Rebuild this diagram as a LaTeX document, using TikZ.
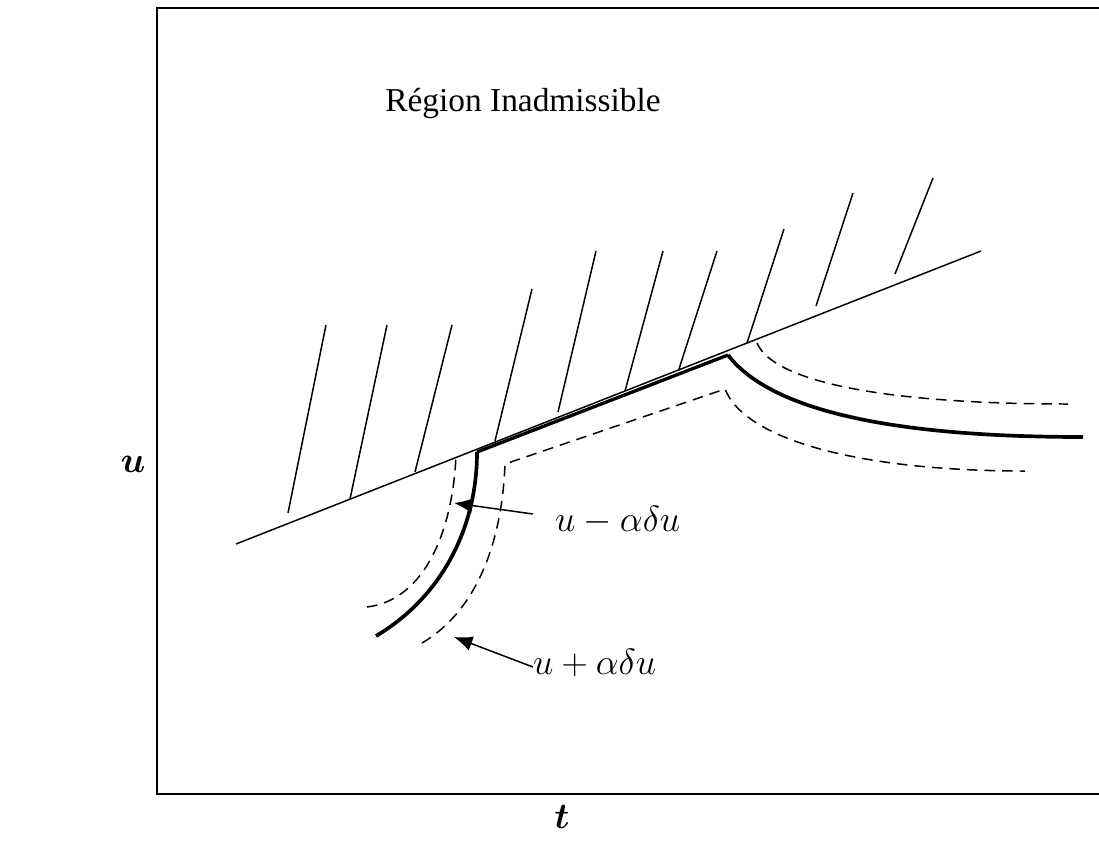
\documentclass[tikz,border=0pt]{standalone}
\usepackage{amsmath}
\usepackage{fontspec}
\setmainfont{Liberation Serif}
\usetikzlibrary{arrows.meta}
\tikzset{
  thinline/.style={line width=0.85pt},
  thickcurve/.style={line width=2.1pt},
  dashcurve/.style={line width=0.85pt, dash pattern=on 6pt off 4pt},
  hatchline/.style={line width=0.85pt},
  frameline/.style={line width=1.6pt},
  pointer/.style={line width=0.85pt, -{Latex[length=10.5pt,width=8.5pt]}},
  lbl/.style={font=\fontsize{20}{24}\selectfont, inner sep=1pt},
}
\begin{document}
\begin{tikzpicture}[x=0.02cm,y=-0.02cm]
\useasboundingbox (0,0) rectangle (1099,856);
\clip (0,0) rectangle (1099,856);
% frame
\draw[frameline] (157,8) rectangle (1120,794);
% hatch lines
\draw[hatchline] (326,325) -- (288,513);
\draw[hatchline] (387,325) -- (350,499);
\draw[hatchline] (452,325) -- (415,472);
\draw[hatchline] (532,289) -- (495,441);
\draw[hatchline] (596,251) -- (558,412);
\draw[hatchline] (663,251) -- (625,391);
\draw[hatchline] (717,251) -- (679,369);
\draw[hatchline] (784,229) -- (747,343);
\draw[hatchline] (853,193) -- (816,306);
\draw[hatchline] (933,178) -- (895,274);
% constraint line
\coordinate (L0) at (236,544);
\coordinate (L1) at (981,251);
\draw[thinline] (L0) -- (L1);
% solution trajectory
\coordinate (S0) at (376,636);
\coordinate (S1) at (477,452);
\coordinate (S2) at (728,355);
\coordinate (S3) at (1083,437);
\draw[thickcurve] (S0) .. controls (440,598) and (477,530) .. (S1);
\draw[line width=1.9pt] (S1) -- (S2);
\draw[thickcurve] (S2) .. controls (770,410) and (890,437) .. (S3);
% dashed perturbations
\draw[dashcurve] (367,607) .. controls (425,600) and (453,530) .. (456,455);
\draw[dashcurve] (422,643) .. controls (475,612) and (502,545) .. (505,464) -- (725,389)
  .. controls (745,440) and (860,471) .. (1025,471);
\draw[dashcurve] (757,343) .. controls (775,385) and (900,404) .. (1068,404);
% labels
\node[font=\fontsize{19}{23}\selectfont, anchor=base west, inner sep=0pt] (reg) at (385,111) {Région Inadmissible};
\node[lbl, anchor=west] (lm) at (553,520) {$u-\alpha\delta u$};
\node[lbl, anchor=west] (lp) at (531,663) {$u+\alpha\delta u$};
\coordinate (am0) at (533,514);
\coordinate (am1) at (454,503);
\coordinate (ap0) at (533,667);
\coordinate (ap1) at (454,637);
\draw[pointer] (am0) -- (am1);
\draw[pointer] (ap0) -- (ap1);
\node[lbl] (ulab) at (133,464) {$\boldsymbol{u}$};
\node[lbl] (tlab) at (562,817) {$\boldsymbol{t}$};
\end{tikzpicture}
\end{document}
